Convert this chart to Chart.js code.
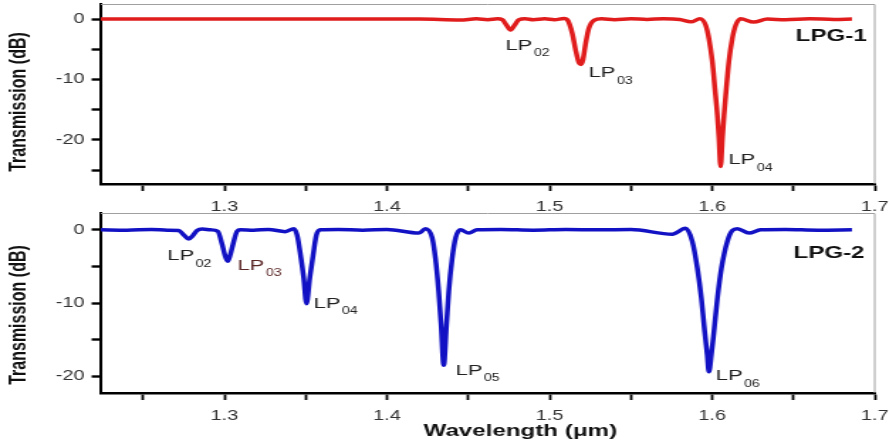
<!DOCTYPE html>
<html>
<head>
<meta charset="utf-8">
<script src="https://cdn.jsdelivr.net/npm/chart.js@4.4.1/dist/chart.umd.min.js"></script>
<style>
  html, body { margin: 0; padding: 0; background: #fff; width: 889px; height: 445px; overflow: hidden; }
  /* the original figure is stretched sideways, so draw narrow and stretch */
  .panel { position: absolute; left: 0; width: 626px; transform: scaleX(1.42); transform-origin: 0 0; }
  #p1 { top: 0; height: 218px; }
  #p2 { top: 206px; height: 239px; }
</style>
</head>
<body>
<div class="panel" id="p1"><canvas id="lpg1"></canvas></div>
<div class="panel" id="p2"><canvas id="lpg2"></canvas></div>
<script>
// LPG-1 spectrum (wavelength in um, transmission in dB)
const wavelength1 = [1.224, 1.26, 1.30, 1.34, 1.38, 1.42, 1.445, 1.455, 1.462, 1.468,
  1.4709, 1.4735, 1.476, 1.4785, 1.4811, 1.485, 1.49, 1.497, 1.503, 1.5089,
  1.5109, 1.514, 1.516, 1.518, 1.5192, 1.5205, 1.5222, 1.5242, 1.5273, 1.532,
  1.54, 1.55, 1.56, 1.57, 1.58, 1.587, 1.5925, 1.596, 1.598, 1.6001,
  1.6017, 1.6032, 1.6042, 1.6052, 1.6063, 1.6073, 1.6087, 1.6103, 1.6124, 1.6145,
  1.6175, 1.6255, 1.634, 1.645, 1.66, 1.675, 1.686];
const transmission1 = [0, 0, 0, 0, 0, 0, -0.15, 0.05, -0.1, 0.05,
  -0.1, -1.0, -1.8, -1.0, -0.1, 0.05, -0.1, 0.05, -0.1, 0.1,
  -0.1, -2.4, -5.1, -7.2, -7.5, -6.8, -4.0, -1.5, -0.2, 0.05,
  -0.1, 0.05, -0.05, 0.05, -0.05, -0.45, 0.05, -1.0, -3.2, -7.0,
  -11.5, -15.9, -19.7, -24.4, -19.7, -15.9, -11.5, -7.0, -3.2, -1.0,
  0.05, -0.5, 0, -0.1, 0.05, -0.05, 0];

// LPG-2 spectrum
const wavelength2 = [1.224, 1.24, 1.255, 1.265, 1.2719, 1.275, 1.278, 1.2805, 1.2832, 1.2863,
  1.2915, 1.2959, 1.2986, 1.3005, 1.302, 1.3035, 1.3047, 1.3078, 1.3098, 1.318,
  1.327, 1.3375, 1.3427, 1.3447, 1.3468, 1.3488, 1.3505, 1.3525, 1.3546, 1.3566,
  1.3591, 1.37, 1.385, 1.40, 1.4196, 1.4237, 1.4278, 1.4298, 1.4318, 1.4333,
  1.4349, 1.4366, 1.438, 1.4401, 1.4422, 1.4452, 1.4503, 1.4555, 1.47, 1.49,
  1.51, 1.53, 1.55, 1.5755, 1.5837, 1.5878, 1.5909, 1.5934, 1.5954, 1.597,
  1.598, 1.5995, 1.6011, 1.6032, 1.6057, 1.6093, 1.6124, 1.6155, 1.6227, 1.6298,
  1.645, 1.665, 1.686];
const transmission2 = [0, -0.05, 0.05, -0.05, -0.1, -0.7, -1.25, -0.8, -0.1, 0.1,
  0, -0.2, -2.0, -3.6, -4.3, -3.5, -2.5, -0.2, 0, -0.05,
  0.05, -0.25, 0.15, -0.7, -3.4, -6.6, -10.1, -6.6, -3.4, -0.7,
  0, 0.05, -0.05, 0.05, -0.45, 0.15, -1.1, -3.9, -8.4, -13.0,
  -18.5, -13.0, -8.4, -3.9, -1.1, 0, -0.45, 0, 0.05, -0.05,
  0.05, 0, 0.05, -0.6, 0.2, -1.6, -5.25, -9.4, -13.9, -17.1,
  -19.4, -17.1, -13.9, -9.4, -5.25, -1.6, -0.1, 0.15, -0.45, 0,
  0.05, -0.05, 0];

// axis ticks (labelled ones every 0.1)
const xTicks = [1.25, 1.3, 1.35, 1.4, 1.45, 1.5, 1.55, 1.6, 1.65, 1.7];
const xTickLabels = ['', '1.3', '', '1.4', '', '1.5', '', '1.6', '', '1.7'];

// mode labels: [subscript, wavelength, dB] at the left/middle of the "LP" text
const modes1 = [['02', 1.4729, -4.4], ['03', 1.524, -8.9], ['04', 1.610, -23.3]];
const modes2 = [['02', 1.2649, -3.6], ['03', 1.308, -4.9], ['04', 1.3548, -10.1],
  ['05', 1.4422, -19.2], ['06', 1.6022, -20.0]];

const panelText = {
  id: 'panelText',
  afterDraw(chart, args, o) {
    const { ctx, chartArea: a, scales: { x, y } } = chart;
    ctx.save();
    // thin grey top and right frame
    ctx.strokeStyle = '#a0a0a0';
    ctx.lineWidth = 1;
    ctx.beginPath();
    ctx.moveTo(a.left, a.top + 0.5);
    ctx.lineTo(a.right, a.top + 0.5);
    ctx.lineTo(a.right, a.bottom);
    ctx.stroke();

    // y title
    ctx.fillStyle = '#111';
    ctx.font = 'bold 16px "Liberation Sans", Arial, sans-serif';
    ctx.textAlign = 'center';
    ctx.textBaseline = 'middle';
    ctx.save();
    ctx.translate(14, (a.top + a.bottom) / 2 + o.yTitleShift);
    ctx.rotate(-Math.PI / 2);
    ctx.fillText('Transmission (dB)', 0, 0);
    ctx.restore();

    // mode labels
    ctx.textAlign = 'left';
    o.modes.forEach(m => {
      const px = x.getPixelForValue(m[1]);
      const py = y.getPixelForValue(m[2]);
      ctx.fillStyle = (o.maroon === m[0]) ? '#5a2626' : '#222';
      ctx.font = '15.5px "Liberation Sans", Arial, sans-serif';
      ctx.fillText('LP', px, py);
      const w = ctx.measureText('LP').width;
      ctx.font = '10px "Liberation Sans", Arial, sans-serif';
      ctx.fillText(m[0], px + w + 1, py + 8);
    });

    // grating tag
    ctx.fillStyle = '#111';
    ctx.font = 'bold 17px "Liberation Sans", Arial, sans-serif';
    ctx.fillText(o.tag, x.getPixelForValue(o.tagAt[0]), y.getPixelForValue(o.tagAt[1]));

    // x title
    if (o.xTitle) {
      ctx.textAlign = 'center';
      ctx.font = 'bold 17px "Liberation Sans", Arial, sans-serif';
      ctx.fillText(o.xTitle, x.getPixelForValue(1.482), a.bottom + 38);
    }
    ctx.restore();
  }
};

function makePanel(id, wl, tr, color, yMin, yMax, padTop, xHeight, text) {
  const pts = wl.map((w, i) => ({ x: w, y: tr[i] }));
  return new Chart(document.getElementById(id), {
    type: 'line',
    data: {
      datasets: [{
        data: pts,
        borderColor: color,
        borderWidth: 3.5,
        pointRadius: 0,
        cubicInterpolationMode: 'monotone',
        fill: false
      }]
    },
    options: {
      responsive: true,
      maintainAspectRatio: false,
      animation: false,
      layout: { padding: { left: 0, right: 10, top: padTop, bottom: 0 } },
      plugins: { legend: { display: false }, tooltip: { enabled: false }, panelText: text },
      scales: {
        x: {
          type: 'linear',
          min: 1.224,
          max: 1.7,
          border: { color: '#000', width: 2.6 },
          grid: { drawOnChartArea: false, tickLength: 7, tickColor: '#000', tickWidth: 1.8 },
          ticks: {
            autoSkip: false,
            maxRotation: 0,
            padding: 8,
            color: '#333',
            font: { family: '"Liberation Sans", Arial, sans-serif', size: 14 },
            callback: (v, i) => xTickLabels[i]
          },
          afterBuildTicks: s => { s.ticks = xTicks.map(v => ({ value: v })); },
          afterFit: s => { s.height = xHeight; s.paddingLeft = 0; s.paddingRight = 0; }
        },
        y: {
          min: yMin,
          max: yMax,
          border: { color: '#000', width: 2 },
          grid: { drawOnChartArea: false, tickLength: 6.5, tickColor: '#000', tickWidth: 2.4 },
          ticks: {
            stepSize: 5,
            includeBounds: false,
            padding: 5,
            color: '#333',
            font: { family: '"Liberation Sans", Arial, sans-serif', size: 14 },
            callback: v => (v % 10 === 0 ? String(v) : '')
          },
          afterFit: s => { s.width = 71; s.paddingTop = 0; s.paddingBottom = 0; }
        }
      }
    },
    plugins: [panelText]
  });
}

makePanel('lpg1', wavelength1, transmission1, '#e01c1c', -27.3, 2.5, 4, 34,
  { modes: modes1, tag: 'LPG-1', tagAt: [1.6514, -2.8], yTitleShift: 8 });
makePanel('lpg2', wavelength2, transmission2, '#1212c4', -22.3, 2.3, 7, 52,
  { modes: modes2, tag: 'LPG-2', tagAt: [1.650, -3.15], yTitleShift: 12,
    maroon: '03', xTitle: 'Wavelength (\u03bcm)' });
</script>
</body>
</html>
